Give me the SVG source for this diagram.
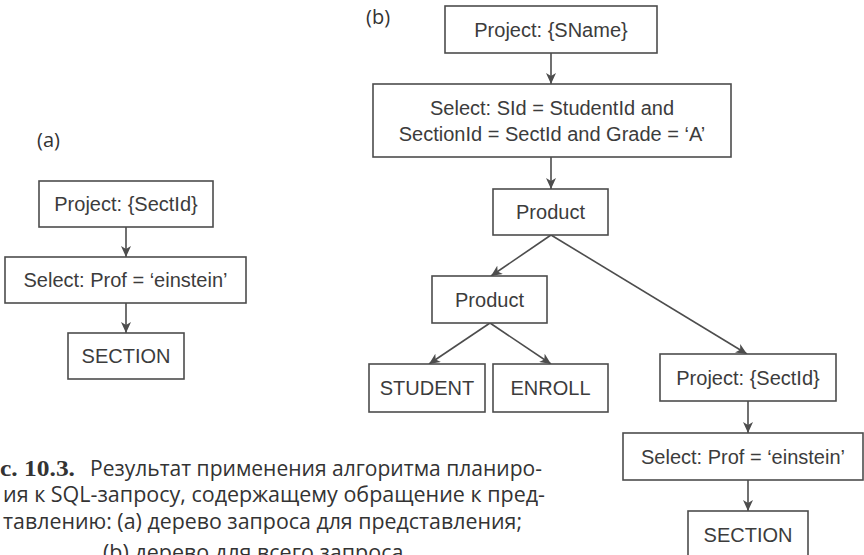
<svg xmlns="http://www.w3.org/2000/svg" width="864" height="555" viewBox="0 0 864 555">
  <style>
    .box { fill: #ffffff; stroke: #4d4d4d; stroke-width: 1.6; }
    .lbl { font-family: "Liberation Sans", Arial, sans-serif; font-size: 20px; fill: #3c3c3c; text-anchor: middle; }
    .tag { font-family: "Open Sans", "Noto Sans", sans-serif; font-size: 20px; fill: #333333; }
    .edge { stroke: #4d4d4d; stroke-width: 1.6; fill: none; marker-end: url(#arrow); }
    .cap { font-family: "Open Sans", "Noto Sans", sans-serif; font-size: 22px; fill: #333333; }
    .capb { font-family: "Liberation Serif", "Times New Roman", serif; font-size: 23px; font-weight: bold; fill: #333333; }
  </style>
  <defs>
    <marker id="arrow" markerUnits="userSpaceOnUse" markerWidth="12" markerHeight="10" refX="11" refY="5" orient="auto">
      <path d="M0,0 L11,5 L0,10 L3,5 z" fill="#4d4d4d"/>
    </marker>
  </defs>
  <rect width="864" height="555" fill="#ffffff"/>

  <!-- panel labels -->
  <text class="tag" x="37" y="147">(a)</text>
  <text class="tag" x="366" y="24">(b)</text>

  <!-- connectors -->
  <g id="connectors">
    <line class="edge" x1="126" y1="227" x2="126" y2="257"/>
    <line class="edge" x1="126" y1="303" x2="126" y2="333"/>
    <line class="edge" x1="551" y1="53" x2="551" y2="84"/>
    <line class="edge" x1="551" y1="157" x2="551" y2="189"/>
    <line class="edge" x1="551" y1="235" x2="491" y2="276"/>
    <line class="edge" x1="551" y1="235" x2="747" y2="354"/>
    <line class="edge" x1="490" y1="323" x2="429" y2="364"/>
    <line class="edge" x1="490" y1="323" x2="551" y2="364"/>
    <line class="edge" x1="748" y1="401" x2="748" y2="433"/>
    <line class="edge" x1="748" y1="480" x2="748" y2="511"/>
  </g>

  <!-- tree (a) -->
  <g id="a-project">
    <rect class="box" x="39" y="181" width="174" height="46"/>
    <text class="lbl" x="126" y="211">Project: {SectId}</text>
  </g>
  <g id="a-select">
    <rect class="box" x="5" y="257" width="241" height="46"/>
    <text class="lbl" x="125.5" y="287">Select: Prof = ‘einstein’</text>
  </g>
  <g id="a-section">
    <rect class="box" x="68" y="333" width="116" height="46"/>
    <text class="lbl" x="126" y="363">SECTION</text>
  </g>

  <!-- tree (b) -->
  <g id="b-project-sname">
    <rect class="box" x="445" y="6" width="212" height="47"/>
    <text class="lbl" x="551" y="37">Project: {SName}</text>
  </g>
  <g id="b-select-join">
    <rect class="box" x="373" y="84" width="358" height="73"/>
    <text class="lbl" x="552" y="115">Select: SId = StudentId and</text>
    <text class="lbl" x="552" y="141">SectionId = SectId and Grade = ‘A’</text>
  </g>
  <g id="b-product-top">
    <rect class="box" x="493" y="189" width="115" height="46"/>
    <text class="lbl" x="550.5" y="219">Product</text>
  </g>
  <g id="b-product-inner">
    <rect class="box" x="432" y="276" width="115" height="47"/>
    <text class="lbl" x="489.5" y="307">Product</text>
  </g>
  <g id="b-student">
    <rect class="box" x="369" y="364" width="116" height="48"/>
    <text class="lbl" x="427" y="395">STUDENT</text>
  </g>
  <g id="b-enroll">
    <rect class="box" x="493" y="364" width="115" height="48"/>
    <text class="lbl" x="550.5" y="395">ENROLL</text>
  </g>
  <g id="b-project-sectid">
    <rect class="box" x="660" y="354" width="176" height="47"/>
    <text class="lbl" x="748" y="385">Project: {SectId}</text>
  </g>
  <g id="b-select-prof">
    <rect class="box" x="623" y="433" width="240" height="47"/>
    <text class="lbl" x="743" y="464">Select: Prof = ‘einstein’</text>
  </g>
  <g id="b-section">
    <rect class="box" x="688" y="511" width="120" height="50"/>
    <text class="lbl" x="748" y="542">SECTION</text>
  </g>

  <!-- caption -->
  <g id="caption">
    <text class="capb" x="0" y="476" textLength="75" lengthAdjust="spacingAndGlyphs">с. 10.3.</text>
    <text class="cap" x="90" y="476" textLength="452" lengthAdjust="spacingAndGlyphs">Результат применения алгоритма планиро-</text>
    <text class="cap" x="3" y="502" textLength="542" lengthAdjust="spacingAndGlyphs">ия к SQL-запросу, содержащему обращение к пред-</text>
    <text class="cap" x="3" y="529" textLength="519" lengthAdjust="spacingAndGlyphs">тавлению: (a) дерево запроса для представления;</text>
    <text class="cap" x="103" y="560" textLength="306" lengthAdjust="spacingAndGlyphs">(b) дерево для всего запроса.</text>
  </g>
</svg>
